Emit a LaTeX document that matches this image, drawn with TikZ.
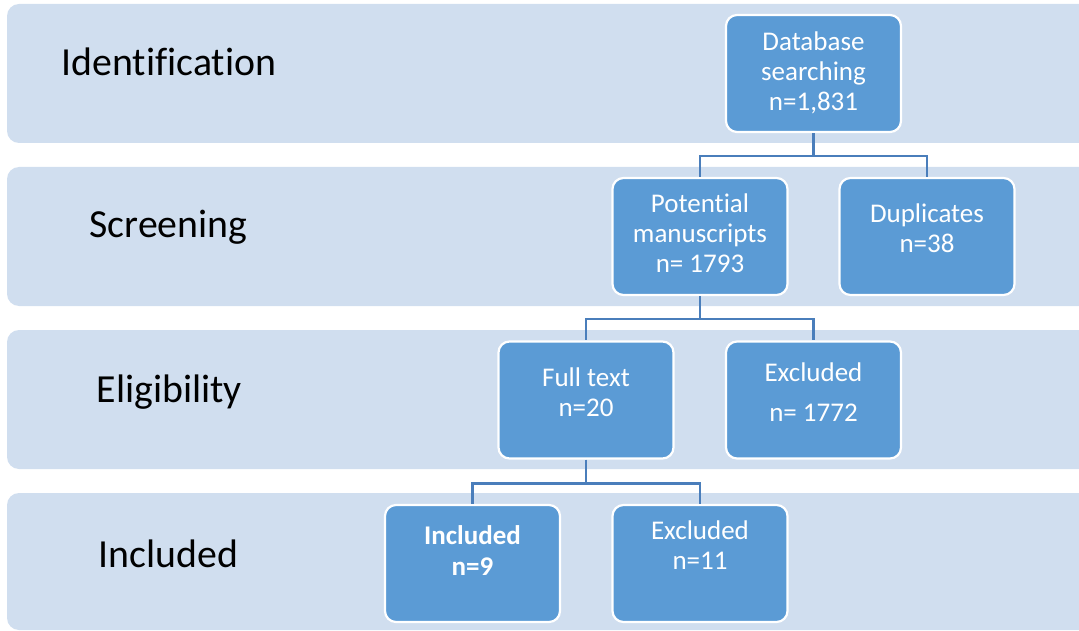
\documentclass[tikz,border=0pt]{standalone}
\usepackage{fontspec}
\setmainfont[Ligatures=NoCommon]{Carlito}
\definecolor{bandc}{RGB}{208,222,239}
\definecolor{boxc}{RGB}{91,155,213}
\definecolor{linec}{RGB}{74,126,187}
\tikzset{
  band/.style={fill=bandc, draw=none, rounded corners=12pt},
  stagelabel/.style={anchor=base, text=black, font=\fontsize{39.8}{42}\selectfont, inner sep=0pt},
  stepbox/.style={fill=boxc, draw=white, line width=2.2pt, rounded corners=11pt,
    minimum width=175pt, minimum height=117pt, inner sep=0pt},
  boxtxt/.style={text=white, align=center, font=\fontsize{27}{30}\selectfont, inner sep=0pt},
  conn/.style={draw=linec, line width=2.6pt}
}
\begin{document}
\begin{tikzpicture}[x=1pt,y=-1pt]
\useasboundingbox (0,0) rectangle (1079,631);
% bands
\fill[band] (7,4) rectangle (1100,143);
\fill[band] (7,167) rectangle (1100,306);
\fill[band] (7,330) rectangle (1100,469);
\fill[band] (7,493) rectangle (1100,630);
% stage labels
\node[stagelabel] (lid) at (169,76) {Identification};
\node[stagelabel] (lsc) at (168.5,238) {Screening};
\node[stagelabel] (lel) at (169.5,402) {Eligibility};
\node[stagelabel] (lin) at (168.5,567) {Included};
% boxes
\node[stepbox] (db) at (813.5,73.5) {};
\node[stepbox] (pot) at (700,236.5) {};
\node[stepbox] (dup) at (927,236.5) {};
\node[stepbox] (ft) at (586,400) {};
\node[stepbox] (ex1) at (813.5,400) {};
\node[stepbox] (inc) at (472.5,563.5) {};
\node[stepbox] (ex2) at (700,563.5) {};
% texts
\node[boxtxt] (tdb) at ([yshift=0.5pt]db.center) {Database\\searching\\n=1,831};
\node[boxtxt] (tpot) at ([yshift=3pt]pot.center) {Potential\\manuscripts\\n= 1793};
\node[boxtxt] (tdup) at ([yshift=8.5pt]dup.center) {Duplicates\\n=38};
\node[boxtxt] (tft) at ([yshift=8pt]ft.center) {Full text\\n=20};
\node[boxtxt] (tex1) at ([yshift=8pt]ex1.center) {Excluded\\[10pt]n= 1772};
\node[boxtxt, font=\bfseries\fontsize{27}{31}\selectfont] (tinc) at ([yshift=13pt]inc.center) {Included\\n=9};
\node[boxtxt] (tex2) at ([yshift=18pt]ex2.center) {Excluded\\n=11};
% connectors
\draw[conn] (db.south) -- ++(0,23) -| (pot.north);
\draw[conn] (db.south) ++(0,23) -| (dup.north);
\draw[conn] (pot.south) -- ++(0,23) -| (ft.north);
\draw[conn] (pot.south) ++(0,23) -| (ex1.north);
\draw[conn] (ft.south) -- ++(0,24) -| (inc.north);
\draw[conn] (ft.south) ++(0,24) -| (ex2.north);
\end{tikzpicture}
\end{document}
